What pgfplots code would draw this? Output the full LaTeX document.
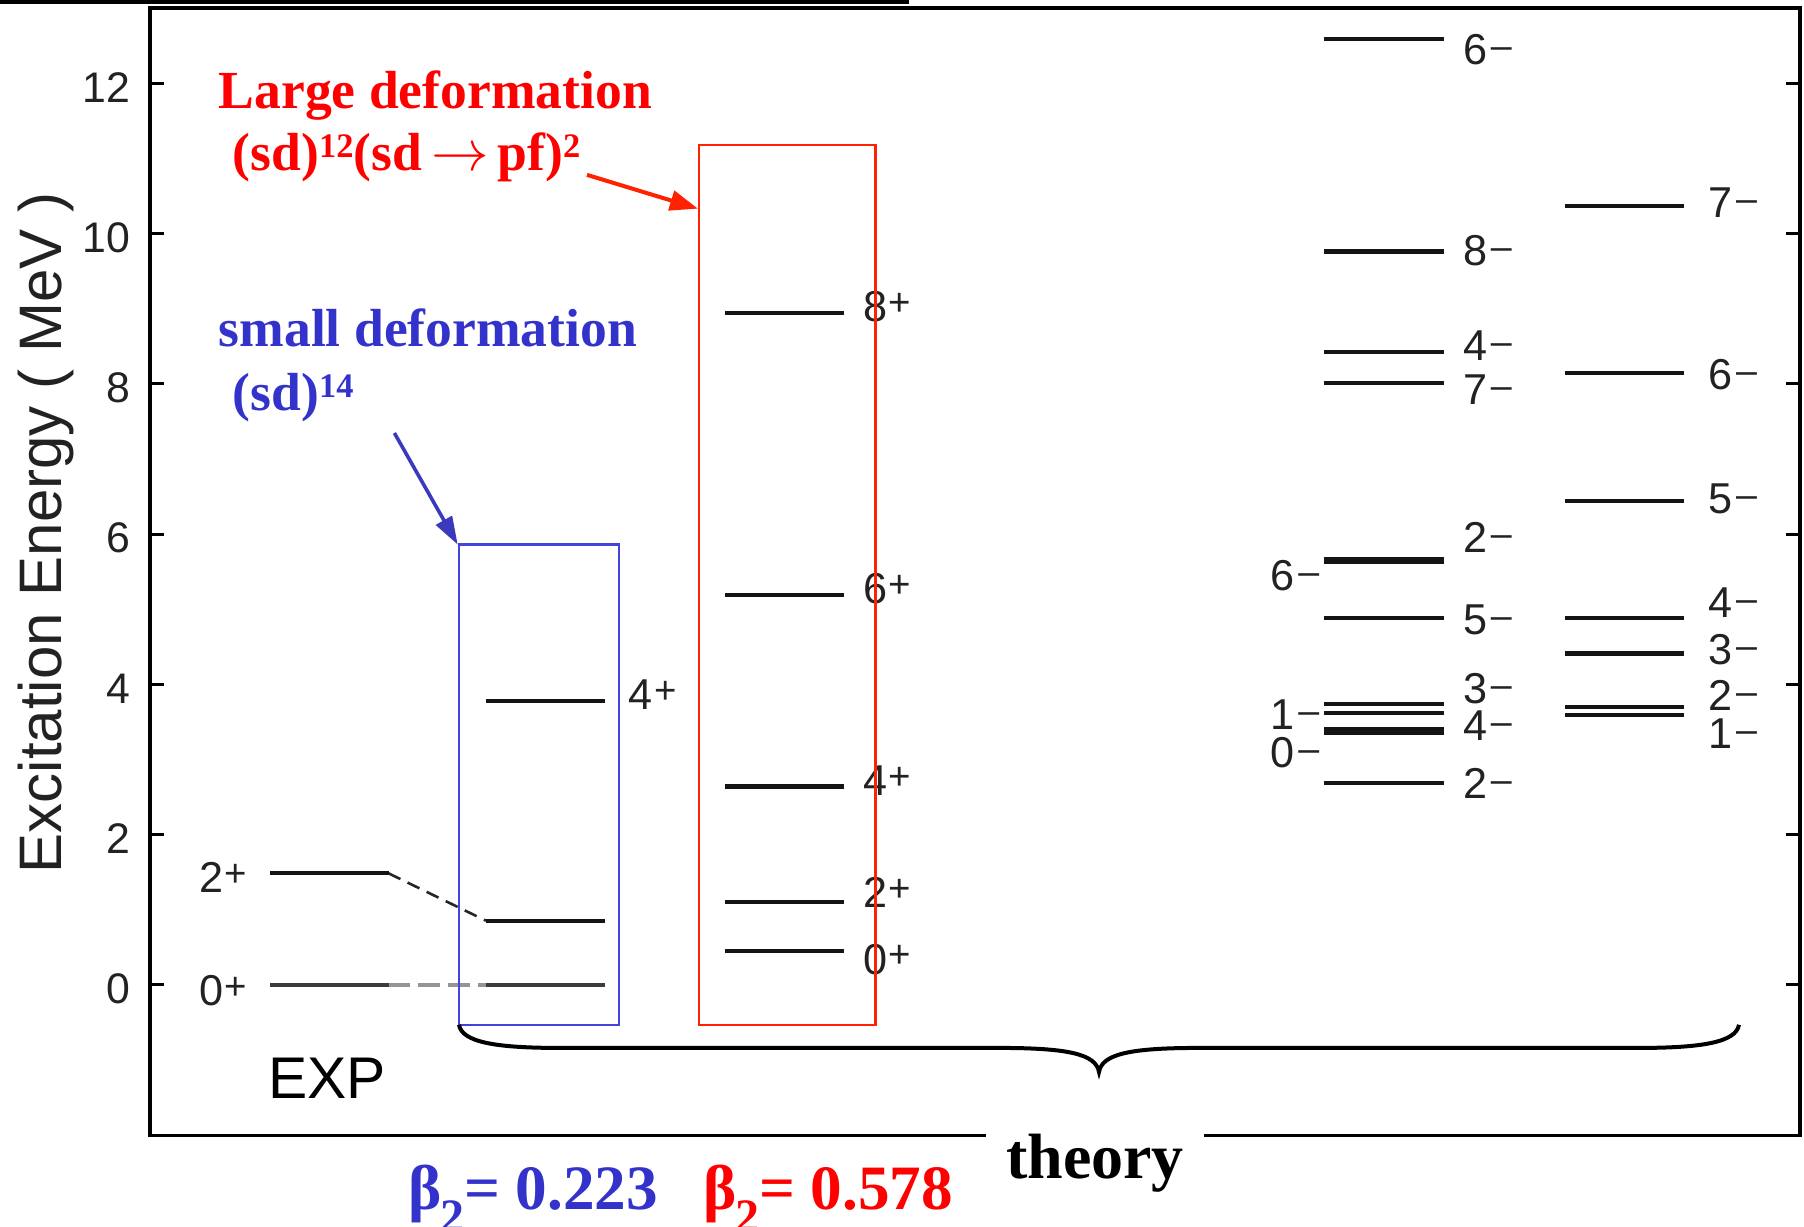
\documentclass[border=0pt]{standalone}
\usepackage{pgfplots}
\pgfplotsset{compat=1.18}
\usepackage{pgfplotstable}
\usepackage{fontspec}
\setmainfont{Liberation Serif}
\newfontfamily\lsans{Liberation Sans}
\usetikzlibrary{arrows.meta}

\definecolor{levelk}{HTML}{141414}
\definecolor{groundk}{HTML}{3C3C3C}
\definecolor{dashgray}{HTML}{959595}
\definecolor{blueann}{HTML}{3333CC}
\definecolor{bluebox}{HTML}{4444DD}
\definecolor{redann}{HTML}{FF0000}
\definecolor{redbox}{HTML}{FF2200}
\definecolor{labelk}{HTML}{222222}

% spin-parity labels
\newcommand{\lvlfont}{\lsans\fontsize{10.8}{12}\selectfont}
\newcommand{\pp}[1]{#1\kern0.3pt{\fontsize{9.6}{10}\selectfont\raisebox{0.17em}{+}}}
\newcommand{\mm}[1]{#1\kern0.9pt{\fontsize{9.4}{10}\selectfont\raisebox{0.16em}{–}}}
\newcommand{\annfont}{\fontsize{13.4}{15}\selectfont\bfseries}
\newcommand{\cfgsup}[1]{\raisebox{3.4pt}{\fontsize{8.6}{9}\selectfont #1}}
\newcommand{\betafont}{\fontsize{15.8}{18}\selectfont\bfseries}
\newcommand{\btwo}{β\kern-0.5pt\raisebox{-0.36em}{\fontsize{12}{12}\selectfont 2}}

% level energies (MeV); x = horizontal centre of each column
\pgfplotstableread{
x E
329.3 0
329.3 1.486
}\expdata
\pgfplotstableread{
x E
545.5 0
545.5 0.855
545.5 3.78
}\sdlevels
\pgfplotstableread{
x E
784.5 0.45
784.5 1.10
784.5 2.64
784.5 5.19
784.5 8.94
}\sdpflevels
\pgfplotstableread{
x E
1384 2.69
1384 3.36
1384 3.41
1384 3.62
1384 3.74
1384 4.88
1384 5.63
1384 5.67
1384 8.01
1384 8.42
1384 9.76
1384 12.59
}\negA
\pgfplotstableread{
x E
1624.5 3.59
1624.5 3.70
1624.5 4.41
1624.5 4.88
1624.5 6.44
1624.5 8.14
1624.5 10.37
}\negB

\begin{document}
\begin{tikzpicture}
\begin{axis}[
  scale only axis,
  width=412.5pt, height=281.8125pt,
  xmin=150, xmax=1800, ymin=-2, ymax=13,
  xtick=\empty,
  ytick={0,2,...,12},
  tick align=inside,
  major tick length=3.5pt,
  tick style={black, line width=0.75pt},
  axis line style={line width=0.85pt},
  /pgf/number format/assume math mode=true,
  yticklabel style={font=\lsans\fontsize{10.7}{12}\selectfont, text=labelk, xshift=-1.5pt, yshift=-1pt},
  clip=false,
  level/.style={only marks, mark=-, mark size=14.9pt, mark options={line width=1.05pt, draw=levelk}},
  ground/.style={only marks, mark=-, mark size=14.9pt, mark options={line width=1.1pt, draw=groundk}},
]

% energy levels
\addplot[ground, restrict y to domain=-0.1:0.1] table[x=x, y=E] \expdata;
\addplot[level, restrict y to domain=0.1:20] table[x=x, y=E] \expdata;
\addplot[ground, restrict y to domain=-0.1:0.1] table[x=x, y=E] \sdlevels;
\addplot[level, restrict y to domain=0.1:20] table[x=x, y=E] \sdlevels;
\addplot[level] table[x=x, y=E] \sdpflevels;
\addplot[level] table[x=x, y=E] \negA;
\addplot[level] table[x=x, y=E] \negB;

% connectors between experiment and (sd) calculation
\addplot[draw=dashgray, line width=0.8pt, dash pattern=on 5.4pt off 2.1pt] coordinates {(388.5,0) (486,0)};
\addplot[draw=black!85, line width=0.65pt, dash pattern=on 3.3pt off 2pt] coordinates {(388.5,1.486) (486,0.855)};

% spin-parity labels
\begin{scope}[every node/.style={font=\lvlfont, text=labelk, inner sep=0pt}]
\node[anchor=base east] at (axis cs:248,1.228) {\pp{2}};
\node[anchor=base east] at (axis cs:248,-0.275) {\pp{0}};
\node[anchor=base west] at (axis cs:628,3.66) {\pp{4}};
\node[anchor=base west] at (axis cs:862.6,8.826) {\pp{8}};
\node[anchor=base west] at (axis cs:862.6,5.07) {\pp{6}};
\node[anchor=base west] at (axis cs:862.6,2.52) {\pp{4}};
\node[anchor=base west] at (axis cs:862.6,1.03) {\pp{2}};
\node[anchor=base west] at (axis cs:862.6,0.14) {\pp{0}};
% first negative-parity column
\node[anchor=base west] at (axis cs:1462.5,12.25) {\mm{6}};
\node[anchor=base west] at (axis cs:1462.5,9.57) {\mm{8}};
\node[anchor=base west] at (axis cs:1462.5,8.31) {\mm{4}};
\node[anchor=base west] at (axis cs:1462.5,7.72) {\mm{7}};
\node[anchor=base west] at (axis cs:1462.5,5.76) {\mm{2}};
\node[anchor=base west] at (axis cs:1462.5,4.67) {\mm{5}};
\node[anchor=base west] at (axis cs:1462.5,3.75) {\mm{3}};
\node[anchor=base west] at (axis cs:1462.5,3.25) {\mm{4}};
\node[anchor=base west] at (axis cs:1462.5,2.48) {\mm{2}};
\node[anchor=base east] at (axis cs:1320,5.25) {\mm{6}};
\node[anchor=base east] at (axis cs:1320,3.40) {\mm{1}};
\node[anchor=base east] at (axis cs:1320,2.89) {\mm{0}};
% second negative-parity column
\node[anchor=base west] at (axis cs:1707.7,10.21) {\mm{7}};
\node[anchor=base west] at (axis cs:1707.7,7.93) {\mm{6}};
\node[anchor=base west] at (axis cs:1707.7,6.27) {\mm{5}};
\node[anchor=base west] at (axis cs:1707.7,4.89) {\mm{4}};
\node[anchor=base west] at (axis cs:1707.7,4.26) {\mm{3}};
\node[anchor=base west] at (axis cs:1707.7,3.65) {\mm{2}};
\node[anchor=base west] at (axis cs:1707.7,3.14) {\mm{1}};
\end{scope}

% axis title and column caption
\node[rotate=90, anchor=base, inner sep=0pt, font=\lsans\fontsize{15}{17}\selectfont, text=labelk]
  at (axis cs:61.6,6.015) {Excitation Energy ( MeV )};
\node[anchor=base, inner sep=0pt, font=\lsans\fontsize{14.7}{16}\selectfont, text=black]
  at (axis cs:327,-1.517) {EXP};

% configuration boxes
\draw[bluebox, line width=0.55pt] (axis cs:459,-0.53) rectangle (axis cs:618.7,5.86);
\draw[redbox, line width=0.55pt] (axis cs:699,-0.53) rectangle (axis cs:875.5,11.18);

% annotations
\node[anchor=base west, inner sep=0pt, text=redann, font=\annfont] at (axis cs:218,11.657) {Large deformation};
\node[anchor=base west, inner sep=0pt, text=redann, font=\annfont] at (axis cs:232,10.832)
  {(sd)\cfgsup{12}(sd\,$\rightarrow$\,pf)\cfgsup{2}};
\node[anchor=base west, inner sep=0pt, text=blueann, font=\annfont] at (axis cs:218,8.49) {small deformation};
\node[anchor=base west, inner sep=0pt, text=blueann, font=\annfont] at (axis cs:232,7.638)
  {(sd)\cfgsup{14}};
\draw[redbox, line width=1pt, -{Triangle[length=7pt, width=5pt]}] (axis cs:587,10.78) -- (axis cs:698,10.33);
\draw[bluebox!85!black, line width=0.9pt, -{Triangle[length=7pt, width=4.5pt]}] (axis cs:394.4,7.345) -- (axis cs:457.7,5.86);

% brace spanning the calculations
\draw[black, line width=1pt]
  (axis cs:459,-0.53) .. controls (axis cs:462,-0.76) and (axis cs:495,-0.838) .. (axis cs:560,-0.838)
  -- (axis cs:1000,-0.838) .. controls (axis cs:1068,-0.838) and (axis cs:1096,-0.92) .. (axis cs:1099,-1.158)
  .. controls (axis cs:1102,-0.92) and (axis cs:1130,-0.838) .. (axis cs:1198,-0.838)
  -- (axis cs:1638,-0.838) .. controls (axis cs:1703,-0.838) and (axis cs:1736,-0.76) .. (axis cs:1739,-0.53);

% deformation parameters
\node[anchor=base west, inner sep=0pt, text=blueann, font=\betafont] at (axis cs:408,-2.994) {\btwo= 0.223};
\node[anchor=base west, inner sep=0pt, text=redann, font=\betafont] at (axis cs:703,-2.994) {\btwo= 0.578};

% reference points used after the axis is drawn
\coordinate (theoryA) at (axis cs:986,-1.77);
\coordinate (theoryB) at (axis cs:1204,-2.20);
\coordinate (theoryC) at (axis cs:1095,-2.581);
\coordinate (barA) at (axis cs:0,13.107);
\coordinate (barB) at (axis cs:909,13.060);
\coordinate (pageA) at (axis cs:0,-3.2203);
\coordinate (pageB) at (axis cs:1804,13.1071);
\end{axis}

\fill[white] (theoryA) rectangle (theoryB);
\node[anchor=base, inner sep=0pt, font=\fontsize{16}{18}\selectfont\bfseries] at (theoryC) {theory};
\fill[black] (barA) rectangle (barB);

\pgfresetboundingbox
\useasboundingbox (pageA) rectangle (pageB);
\end{tikzpicture}
\end{document}
